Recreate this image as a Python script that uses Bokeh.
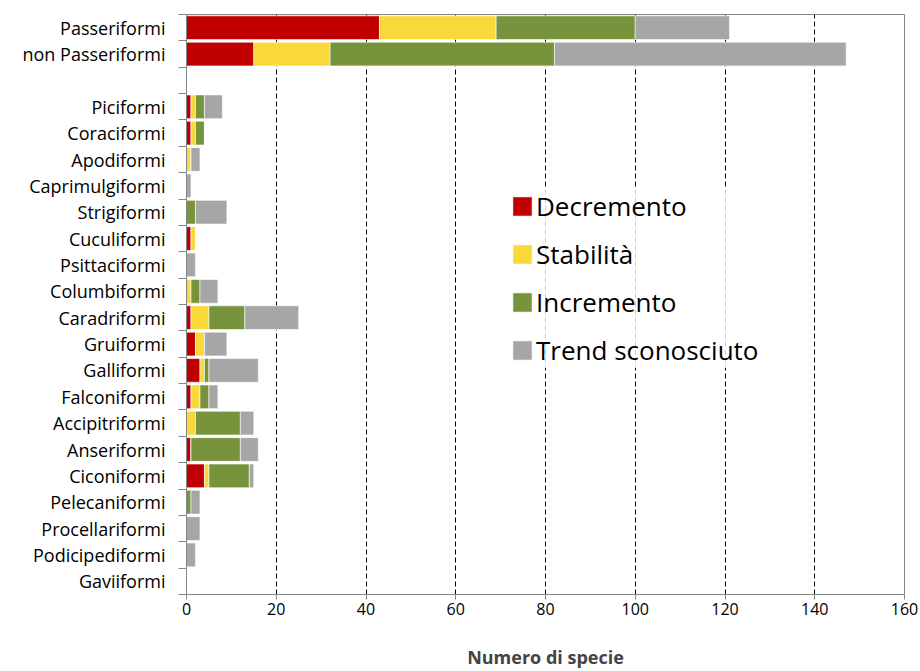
from bokeh.plotting import figure
from bokeh.models import ColumnDataSource, FixedTicker, Range1d
from bokeh.embed import file_html
from bokeh.resources import INLINE

categories = ["Passeriformi", "non Passeriformi", "", "Piciformi", "Coraciformi",
              "Apodiformi", "Caprimulgiformi", "Strigiformi", "Cuculiformi",
              "Psittaciformi", "Columbiformi", "Caradriformi", "Gruiformi",
              "Galliformi", "Falconiformi", "Accipitriformi", "Anseriformi",
              "Ciconiformi", "Pelecaniformi", "Procellariformi", "Podicipediformi",
              "Gaviiformi"]
decremento = [43, 15, 0, 1, 1, 0, 0, 0, 1, 0, 0, 1, 2, 3, 1, 0, 1, 4, 0, 0, 0, 0]
stabilita  = [26, 17, 0, 1, 1, 1, 0, 0, 1, 0, 1, 4, 2, 1, 2, 2, 0, 1, 0, 0, 0, 0]
incremento = [31, 50, 0, 2, 2, 0, 0, 2, 0, 0, 2, 8, 0, 1, 2, 10, 11, 9, 1, 0, 0, 0]
sconosciuto = [21, 65, 0, 4, 0, 2, 1, 7, 0, 2, 4, 12, 5, 11, 2, 3, 4, 1, 2, 3, 2, 0]
series_names = ["Decremento", "Stabilità", "Incremento", "Trend sconosciuto"]
colors = ["#C00000", "#F8D939", "#77933C", "#A6A6A6"]
x_ticks = [0, 20, 40, 60, 80, 100, 120, 140, 160]

n = len(categories)
ypos = [n - 1 - i for i in range(n)]
source = ColumnDataSource(dict(y=ypos, dec=decremento, sta=stabilita,
                               inc=incremento, unk=sconosciuto))

FONT = "Open Sans"
p = figure(width=920, height=671, output_backend="svg", toolbar_location=None,
           x_range=Range1d(0, 160), y_range=Range1d(-0.5, n - 0.5),
           min_border_left=186, min_border_right=16, min_border_top=14,
           min_border_bottom=71)

renderers = p.hbar_stack(["dec", "sta", "inc", "unk"], y="y", height=0.9,
                         color=colors, line_color="white", line_width=0.6,
                         source=source, legend_label=series_names)

p.outline_line_color = "#868686"
p.outline_line_width = 1

# x axis
p.xaxis.ticker = FixedTicker(ticks=x_ticks)
p.xaxis.axis_line_color = "#868686"
p.xaxis.major_tick_line_color = "#868686"
p.xaxis.major_tick_out = 5
p.xaxis.major_tick_in = 0
p.xaxis.minor_tick_line_color = None
p.xaxis.major_label_text_font = FONT
p.xaxis.major_label_text_font_size = "16px"
p.xaxis.major_label_text_color = "black"
p.xaxis.major_label_standoff = 3
p.xaxis.axis_label = "Numero di specie"
p.xaxis.axis_label_text_font = FONT
p.xaxis.axis_label_text_font_style = "bold"
p.xaxis.axis_label_text_font_size = "18px"
p.xaxis.axis_label_standoff = 27

# y axis
boundaries = [k + 0.5 for k in range(-1, n)]
p.yaxis.ticker = FixedTicker(ticks=ypos, minor_ticks=boundaries)
p.yaxis.major_label_overrides = {y: c for y, c in zip(ypos, categories)}
p.yaxis.axis_line_color = "#868686"
p.yaxis.major_tick_line_color = None
p.yaxis.major_tick_out = 0
p.yaxis.major_tick_in = 0
p.yaxis.minor_tick_line_color = "#868686"
p.yaxis.minor_tick_out = 8
p.yaxis.minor_tick_in = 0
p.yaxis.major_label_text_font = FONT
p.yaxis.major_label_text_font_size = "18px"
p.yaxis.major_label_text_color = "black"
p.yaxis.major_label_standoff = 13

# grids
p.ygrid.grid_line_color = None
p.xgrid.ticker = FixedTicker(ticks=x_ticks[1:-1])
p.xgrid.grid_line_color = "black"
p.xgrid.grid_line_dash = "5 3"
p.xgrid.grid_line_width = 1

# legend
lg = p.legend[0]
lg.location = (324, 226)
lg.padding = 0
lg.margin = 0
lg.border_line_color = None
lg.background_fill_color = "white"
lg.background_fill_alpha = 0.8
lg.glyph_width = 24
lg.glyph_height = 24
lg.label_text_font = FONT
lg.label_text_font_size = "26px"
lg.label_text_color = "black"
lg.label_standoff = 2
lg.label_height = 33
lg.spacing = 12

open("out.html", "w").write(file_html(p, INLINE))
